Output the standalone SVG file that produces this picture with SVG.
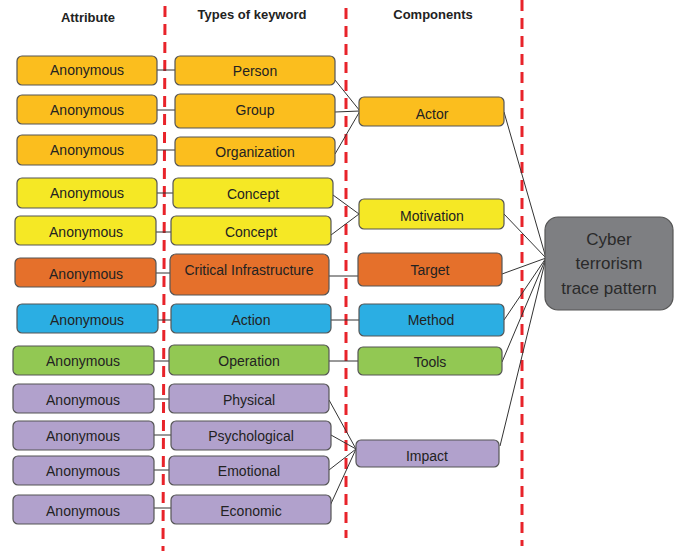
<svg xmlns="http://www.w3.org/2000/svg" width="675" height="551" viewBox="0 0 675 551">
<style>
.b{stroke:#555;stroke-width:1.2}
.am{fill:#FBBE1E}.ye{fill:#F5E825}.or{fill:#E5702B}.bl{fill:#2BAEE3}.gr{fill:#92C853}.pu{fill:#B1A1CC}.gy{fill:#7E7F82}
text{font-family:"Liberation Sans",Arial,sans-serif;font-size:14px;fill:#222;text-anchor:middle}
.h{font-weight:bold;font-size:13px}
.c{font-size:17px;fill:#2a2a2a}
.sep{stroke:#E8232A;stroke-width:3;stroke-dasharray:11 7;fill:none}
#connectors line{stroke:#333;stroke-width:1}
</style>
<rect width="675" height="551" fill="#fff"/>
<g id="separators">
<line class="sep" x1="165" y1="6" x2="163" y2="551"/>
<line class="sep" x1="346" y1="8" x2="346" y2="538"/>
<line class="sep" x1="522" y1="0" x2="522" y2="546"/>
</g>
<g id="headers">
<text class="h" x="88" y="22">Attribute</text>
<text class="h" x="252" y="19">Types of keyword</text>
<text class="h" x="433" y="19">Components</text>
</g>
<g id="connectors">
<line x1="157" y1="70" x2="175" y2="70"/>
<line x1="157" y1="110" x2="175" y2="110"/>
<line x1="157" y1="150" x2="175" y2="150"/>
<line x1="157" y1="193" x2="173" y2="193"/>
<line x1="156" y1="232" x2="171" y2="232"/>
<line x1="154" y1="273" x2="170" y2="273"/>
<line x1="158" y1="320" x2="171" y2="320"/>
<line x1="154" y1="361" x2="169" y2="361"/>
<line x1="154" y1="399" x2="169" y2="399"/>
<line x1="154" y1="435" x2="171" y2="435"/>
<line x1="154" y1="470" x2="169" y2="470"/>
<line x1="154" y1="508" x2="171" y2="508"/>
<line x1="335" y1="80" x2="360" y2="111"/>
<line x1="335" y1="112" x2="360" y2="111"/>
<line x1="335" y1="154" x2="360" y2="111"/>
<line x1="333" y1="195" x2="359" y2="214"/>
<line x1="331" y1="235" x2="359" y2="214"/>
<line x1="329" y1="276" x2="358" y2="276"/>
<line x1="331" y1="320" x2="359" y2="320"/>
<line x1="329" y1="361" x2="358" y2="361"/>
<line x1="329" y1="400" x2="356" y2="449"/>
<line x1="331" y1="435" x2="356" y2="449"/>
<line x1="329" y1="470" x2="356" y2="449"/>
<line x1="329" y1="508" x2="356" y2="449"/>
<line x1="504" y1="112" x2="546" y2="258"/>
<line x1="504" y1="214" x2="546" y2="258"/>
<line x1="502" y1="274" x2="546" y2="258"/>
<line x1="504" y1="320" x2="546" y2="258"/>
<line x1="502" y1="362" x2="546" y2="258"/>
<line x1="500" y1="446" x2="546" y2="258"/>
</g>
<g id="attr1"><rect class="b am" x="17" y="56" width="140" height="29" rx="5"/><text x="87" y="75">Anonymous</text></g>
<g id="attr2"><rect class="b am" x="17" y="95" width="140" height="29" rx="5"/><text x="87" y="115">Anonymous</text></g>
<g id="attr3"><rect class="b am" x="17" y="135" width="140" height="30" rx="5"/><text x="87" y="155">Anonymous</text></g>
<g id="attr4"><rect class="b ye" x="17" y="178" width="140" height="30" rx="5"/><text x="87" y="198">Anonymous</text></g>
<g id="attr5"><rect class="b ye" x="15" y="216" width="141" height="29" rx="5"/><text x="86" y="237">Anonymous</text></g>
<g id="attr6"><rect class="b or" x="15" y="258" width="141" height="29" rx="5"/><text x="86" y="279">Anonymous</text></g>
<g id="attr7"><rect class="b bl" x="17" y="304" width="141" height="29" rx="5"/><text x="87" y="325">Anonymous</text></g>
<g id="attr8"><rect class="b gr" x="13" y="346" width="141" height="29" rx="5"/><text x="83" y="366">Anonymous</text></g>
<g id="attr9"><rect class="b pu" x="13" y="384" width="141" height="29" rx="5"/><text x="83" y="405">Anonymous</text></g>
<g id="attr10"><rect class="b pu" x="13" y="421" width="141" height="29" rx="5"/><text x="83" y="441">Anonymous</text></g>
<g id="attr11"><rect class="b pu" x="13" y="456" width="141" height="29" rx="5"/><text x="83" y="476">Anonymous</text></g>
<g id="attr12"><rect class="b pu" x="13" y="495" width="141" height="29" rx="5"/><text x="83" y="516">Anonymous</text></g>
<g id="person"><rect class="b am" x="175" y="56" width="160" height="29" rx="5"/><text x="255" y="76">Person</text></g>
<g id="group"><rect class="b am" x="175" y="94" width="160" height="34" rx="5"/><text x="255" y="115">Group</text></g>
<g id="organization"><rect class="b am" x="175" y="137" width="160" height="29" rx="5"/><text x="255" y="157">Organization</text></g>
<g id="concept1"><rect class="b ye" x="173" y="178" width="160" height="30" rx="5"/><text x="253" y="199">Concept</text></g>
<g id="concept2"><rect class="b ye" x="171" y="216" width="160" height="29" rx="5"/><text x="251" y="237">Concept</text></g>
<g id="critical"><rect class="b or" x="170" y="254" width="159" height="41" rx="6"/><text x="249" y="275">Critical Infrastructure</text></g>
<g id="action"><rect class="b bl" x="171" y="304" width="160" height="29" rx="5"/><text x="251" y="325">Action</text></g>
<g id="operation"><rect class="b gr" x="169" y="345" width="160" height="30" rx="5"/><text x="249" y="366">Operation</text></g>
<g id="physical"><rect class="b pu" x="169" y="384" width="160" height="29" rx="5"/><text x="249" y="405">Physical</text></g>
<g id="psychological"><rect class="b pu" x="171" y="421" width="160" height="29" rx="5"/><text x="251" y="441">Psychological</text></g>
<g id="emotional"><rect class="b pu" x="169" y="456" width="160" height="29" rx="5"/><text x="249" y="476">Emotional</text></g>
<g id="economic"><rect class="b pu" x="171" y="495" width="160" height="29" rx="5"/><text x="251" y="516">Economic</text></g>
<g id="actor"><rect class="b am" x="359" y="97" width="145" height="29" rx="5"/><text x="432" y="119">Actor</text></g>
<g id="motivation"><rect class="b ye" x="359" y="199" width="145" height="30" rx="5"/><text x="432" y="221">Motivation</text></g>
<g id="target"><rect class="b or" x="358" y="253" width="144" height="33" rx="5"/><text x="430" y="275">Target</text></g>
<g id="method"><rect class="b bl" x="359" y="304" width="145" height="32" rx="5"/><text x="431" y="325">Method</text></g>
<g id="tools"><rect class="b gr" x="358" y="347" width="144" height="28" rx="5"/><text x="430" y="367">Tools</text></g>
<g id="impact"><rect class="b pu" x="356" y="440" width="143" height="27" rx="5"/><text x="427" y="461">Impact</text></g>
<g id="cyber"><rect class="b gy" x="545" y="217" width="128" height="93" rx="13"/><text class="c" x="609" y="245">Cyber</text><text class="c" x="609" y="269">terrorism</text><text class="c" x="609" y="294">trace pattern</text></g>
</svg>
